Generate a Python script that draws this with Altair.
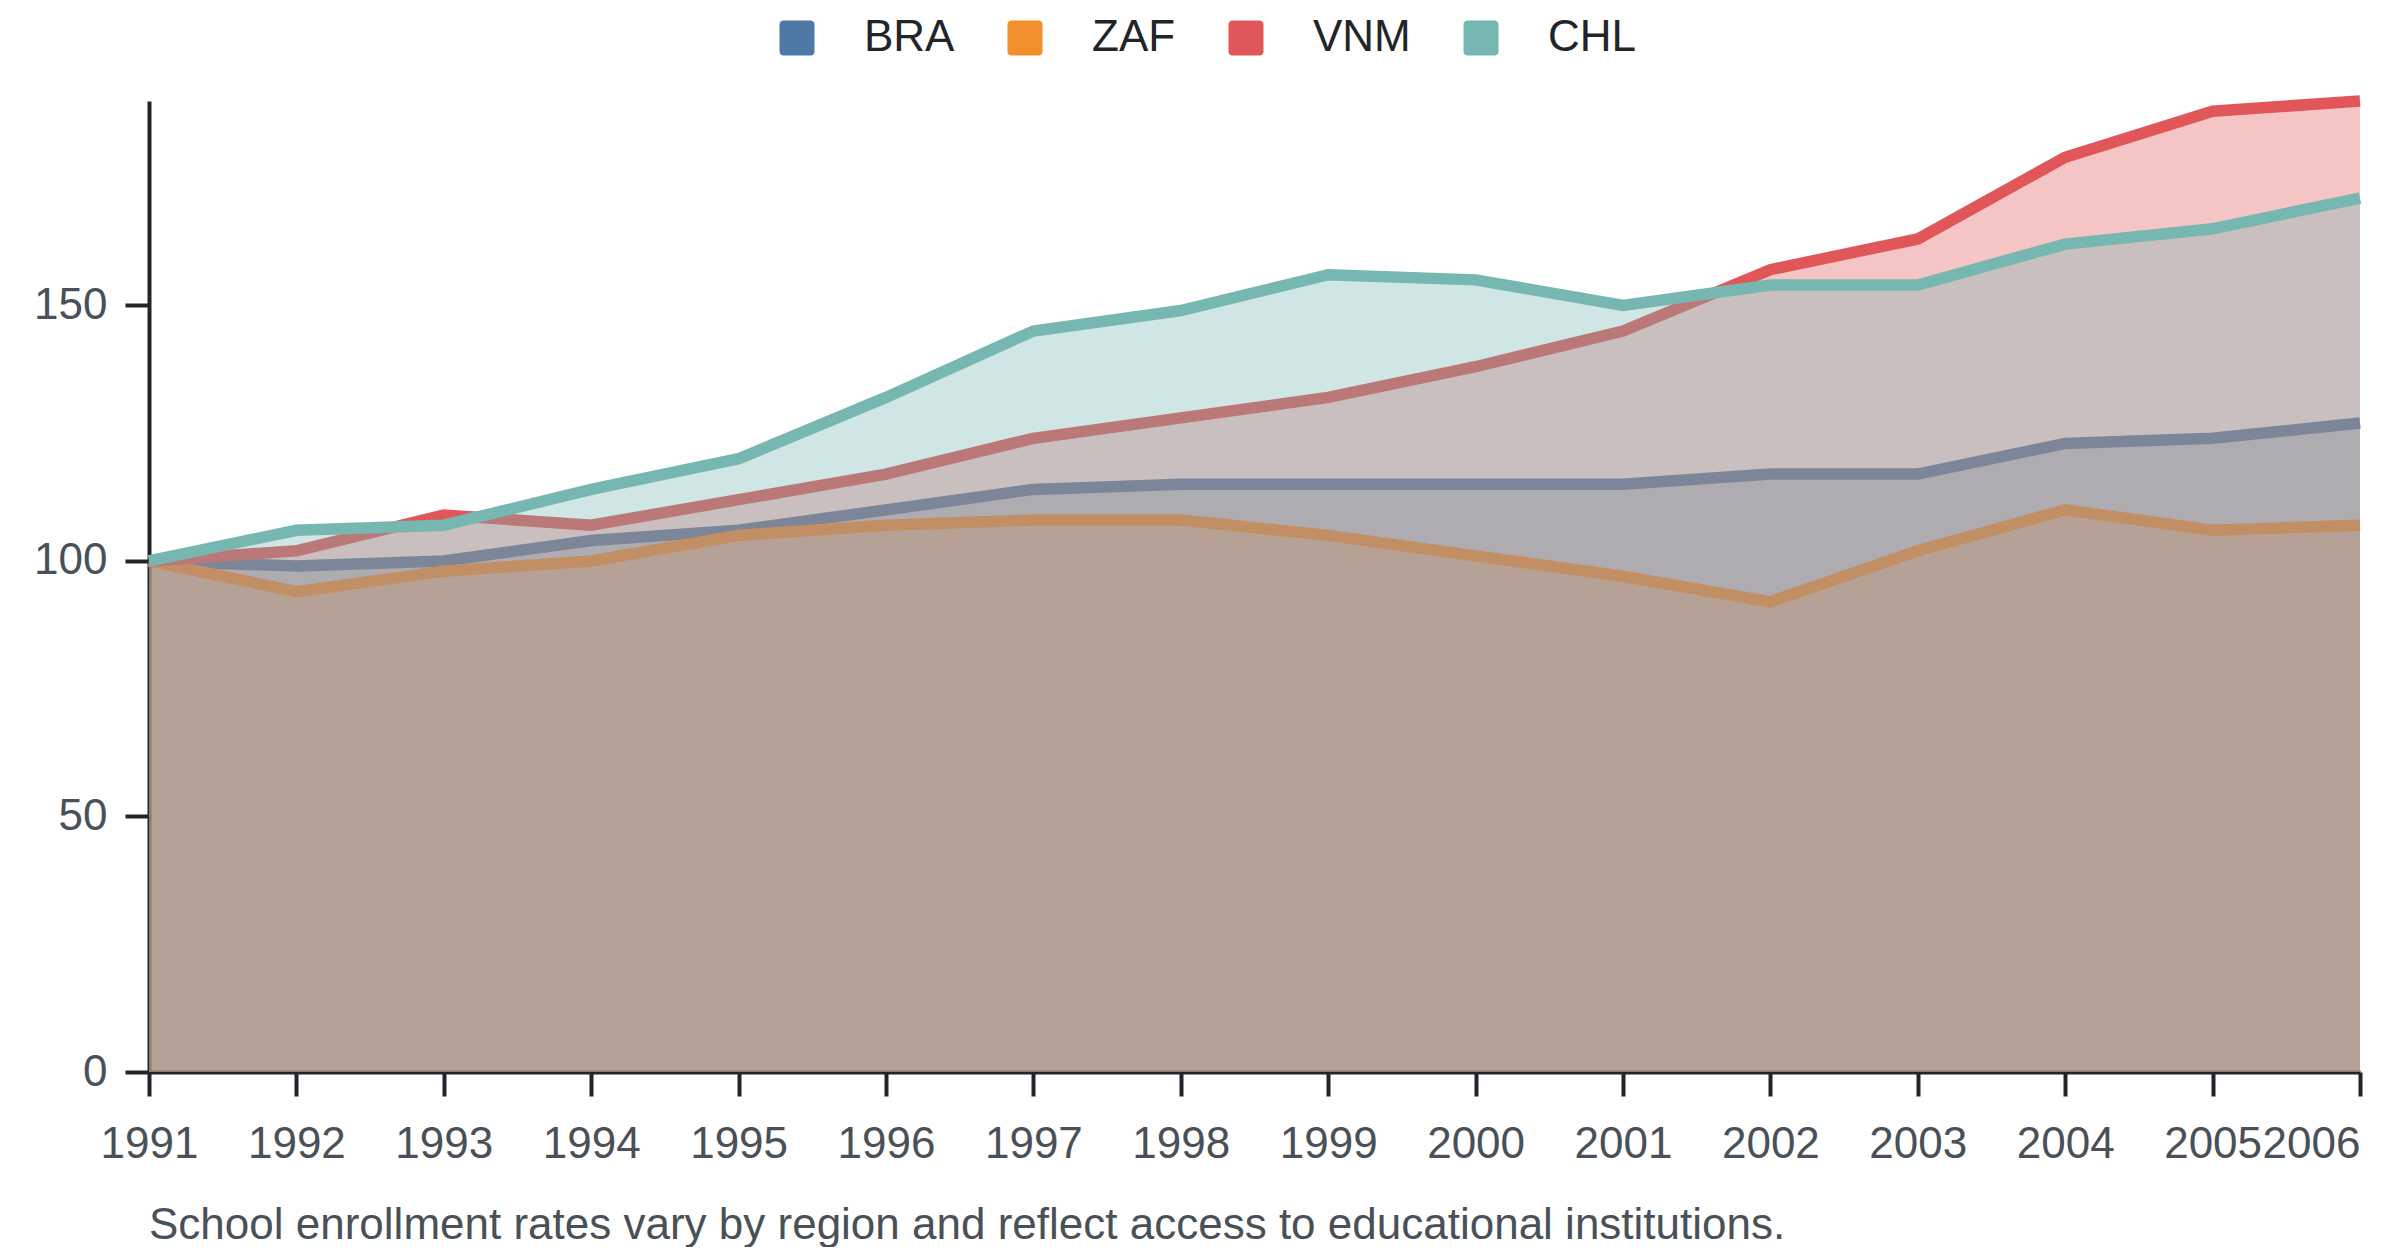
import altair as alt
import pandas as pd

years = list(range(1991, 2007))
countries = ["BRA", "ZAF", "VNM", "CHL"]
colors = ["#4e79a7", "#f28e2b", "#e15759", "#76b7b2"]
bra = [100, 99, 100, 104, 106, 110, 114, 115, 115, 115, 115, 117, 117, 123, 124, 127]
zaf = [100, 94, 98, 100, 105, 107, 108, 108, 105, 101, 97, 92, 102, 110, 106, 107]
vnm = [100, 102, 109, 107, 112, 117, 124, 128, 132, 138, 145, 157, 163, 179, 188, 190]
chl = [100, 106, 107, 114, 120, 132, 145, 149, 156, 155, 150, 154, 154, 162, 165, 171]
y_ticks = [0, 50, 100, 150]
caption = "School enrollment rates vary by region and reflect access to educational institutions."

series = {"BRA": bra, "ZAF": zaf, "VNM": vnm, "CHL": chl}
rows = []
for c in countries:
    for yr, v in zip(years, series[c]):
        rows.append({"country": c, "year": yr, "value": v})
df = pd.DataFrame(rows)

FONT = "Liberation Sans, Arial, sans-serif"
rounded = ("M -0.78,-1 L 0.78,-1 A 0.22,0.22 0 0 1 1,-0.78 L 1,0.78 "
           "A 0.22,0.22 0 0 1 0.78,1 L -0.78,1 A 0.22,0.22 0 0 1 -1,0.78 "
           "L -1,-0.78 A 0.22,0.22 0 0 1 -0.78,-1 Z")

legend = alt.Legend(
    title=None, orient="none", direction="horizontal",
    legendX=626, legendY=-85, padding=0,
    symbolType=rounded, symbolSize=1225, symbolOpacity=1, symbolStrokeWidth=0,
    labelFont=FONT, labelFontSize=44, labelColor="#212529",
    labelOffset=45, columnPadding=48, labelBaseline="middle",
)

x_enc = alt.X(
    "year:Q",
    scale=alt.Scale(domain=[years[0], years[-1]], nice=False, zero=False),
    axis=alt.Axis(
        values=years, format="d", title=None, labelFlush=False, labelOverlap=False,
        labelAlign={"expr": "datum.value == 2006 ? 'right' : 'center'"},
        labelPadding=26,
    ),
)
y_enc = alt.Y(
    "value:Q",
    scale=alt.Scale(domain=[0, 190], nice=False),
    axis=alt.Axis(values=y_ticks, title=None, labelPadding=18),
)

layers = []
for c in countries:
    base = alt.Chart(df).transform_filter(alt.datum.country == c)
    area = base.mark_area(opacity=0.35).encode(
        x=x_enc, y=y_enc,
        color=alt.Color("country:N", scale=alt.Scale(domain=countries, range=colors), legend=legend),
    )
    line = base.mark_line(strokeWidth=11.5).encode(
        x=x_enc, y=y_enc,
        color=alt.Color("country:N", scale=alt.Scale(domain=countries, range=colors), legend=None),
    )
    layers += [area, line]

chart = alt.layer(*layers).properties(
    width=2211, height=971,
    background="white",
    autosize=alt.AutoSizeParams(type="none"),
    padding={"left": 141, "top": 93, "right": 30, "bottom": 175},
    title=alt.TitleParams(
        caption, orient="bottom", anchor="start", frame="group",
        font=FONT, fontSize=44, fontWeight="normal", color="#495057", offset=38,
    ),
).configure_view(stroke=None).configure_axis(
    grid=False, labelFont=FONT, labelFontSize=44, labelColor="#495057",
    domainColor="#212529", domainWidth=4, tickColor="#212529", tickWidth=4, tickSize=24,
)

chart.save("out.html", embed_options={"renderer": "svg", "actions": False})
